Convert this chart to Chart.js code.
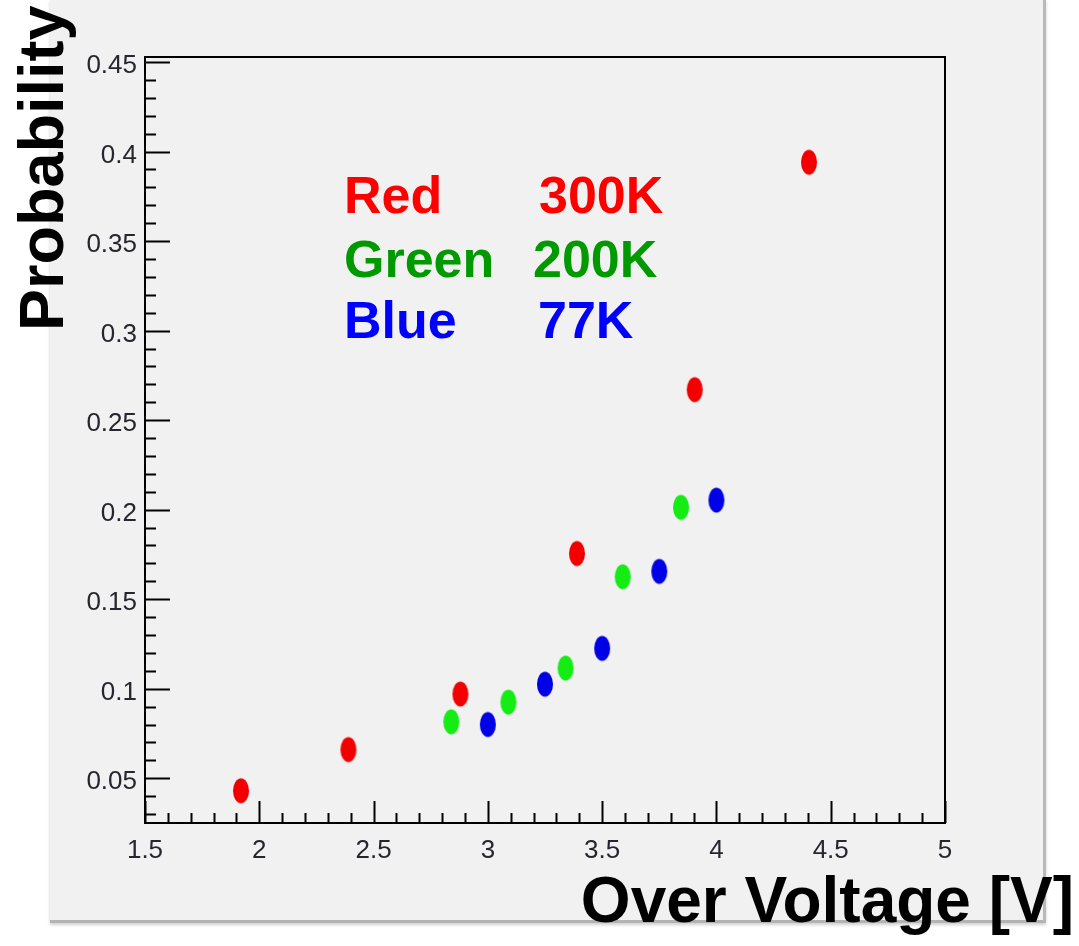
<!DOCTYPE html>
<html>
<head>
<meta charset="utf-8">
<title>Probability vs Over Voltage</title>
<script src="https://cdn.jsdelivr.net/npm/chart.js@4"></script>
<style>
  body { margin: 0; background: #fff; }
  #panel {
    position: absolute; left: 50px; top: 0;
    width: 993px; height: 920px;
    background: #f1f1f1;
    border-right: 3px solid #b9b9b9;
    border-bottom: 3px solid #b3b3b3;
    box-shadow: 0 2px 3px #cfcfcf;
  }
  canvas { position: absolute; left: 0; top: 0; }
</style>
</head>
<body>
<div id="panel"></div>
<canvas id="myChart" width="1079" height="946"></canvas>
<script>
// Over voltage [V] vs probability, one series per temperature
const redX   = [1.92, 2.39, 2.88, 3.39, 3.905, 4.405];      // 300K
const redY   = [0.043, 0.066, 0.097, 0.1755, 0.267, 0.394];
const greenX = [2.84, 3.09, 3.34, 3.59, 3.845];              // 200K
const greenY = [0.0815, 0.0925, 0.1115, 0.1625, 0.2013];
const blueX  = [3.0, 3.25, 3.5, 3.75, 4.0];                  // 77K
const blueY  = [0.080, 0.1025, 0.1225, 0.1655, 0.2053];

const xMin = 1.5, xMax = 5;
const yMin = 0.025, yMax = 0.4528;

const legendLines = [
  { name: 'Red',   temp: '300K', color: '#ff0000' },
  { name: 'Green', temp: '200K', color: '#009a00' },
  { name: 'Blue',  temp: '77K',  color: '#0000ff' }
];

const xTitle = 'Over Voltage [V]';
const yTitle = 'Probability';

// slightly tall elliptical marker, same as the ROOT export
function makeDot(color) {
  const c = document.createElement('canvas');
  c.width = 20; c.height = 30;
  const g = c.getContext('2d');
  g.filter = 'blur(0.7px)';
  g.fillStyle = color;
  g.beginPath();
  g.ellipse(10, 15, 8, 12.5, 0, 0, Math.PI * 2);
  g.fill();
  return c;
}

function toPoints(xs, ys) {
  return xs.map((x, i) => ({ x: x, y: ys[i] }));
}

function fmt(v) {
  return String(Number(v.toFixed(2)));
}

// box frame, inward ticks and the big captions
const framePlugin = {
  id: 'frame',
  afterDraw(chart) {
    const { ctx, chartArea: a, scales: { x, y } } = chart;
    ctx.save();
    ctx.strokeStyle = '#000';
    ctx.lineWidth = 2;
    ctx.strokeRect(a.left, a.top, a.width, a.height);

    ctx.beginPath();
    for (let i = 0; i <= 35; i++) {
      const px = Math.round(x.getPixelForValue(xMin + i * 0.1)) + 0.5;
      const len = i % 5 === 0 ? 22 : 10;
      ctx.moveTo(px, a.bottom);
      ctx.lineTo(px, a.bottom - len);
    }
    for (let i = 3; i <= 45; i++) {
      const py = Math.round(y.getPixelForValue(i / 100)) + 0.5;
      const len = i % 5 === 0 ? 25 : 11;
      ctx.moveTo(a.left, py);
      ctx.lineTo(a.left + len, py);
    }
    ctx.stroke();

    // legend block
    ctx.font = 'bold 52px "Liberation Sans", Arial, sans-serif';
    ctx.textBaseline = 'alphabetic';
    ctx.textAlign = 'left';
    const rows = [213, 277, 338];
    const tempX = [539, 533, 538];
    legendLines.forEach((l, i) => {
      ctx.fillStyle = l.color;
      ctx.fillText(l.name, 344, rows[i]);
      ctx.fillText(l.temp, tempX[i], rows[i]);
    });

    // axis captions
    ctx.fillStyle = '#000';
    ctx.font = 'bold 64px "Liberation Sans", Arial, sans-serif';
    ctx.textAlign = 'right';
    ctx.fillText(xTitle, 1074, 922);

    ctx.font = 'bold 63px "Liberation Sans", Arial, sans-serif';
    ctx.translate(63, 331);
    ctx.rotate(-Math.PI / 2);
    ctx.textAlign = 'left';
    ctx.fillText(yTitle, 0, 0);
    ctx.restore();
  }
};

const tickFont = {
  family: '"Liberation Sans Narrow", "Liberation Sans", Arial, sans-serif',
  size: 26
};

const ctx = document.getElementById('myChart');
const myChart = new Chart(ctx, {
  type: 'scatter',
  data: {
    datasets: [
      { label: '300K', data: toPoints(redX, redY),     pointStyle: makeDot('#f20000') },
      { label: '200K', data: toPoints(greenX, greenY), pointStyle: makeDot('#14ec14') },
      { label: '77K',  data: toPoints(blueX, blueY),   pointStyle: makeDot('#0000e6') }
    ]
  },
  options: {
    responsive: false,
    animation: false,
    layout: { padding: { top: 57, right: 134, left: 0, bottom: 0 } },
    scales: {
      x: {
        type: 'linear',
        min: xMin, max: xMax,
        afterFit: s => { s.height = 123; },
        grid: { display: false, drawTicks: false },
        border: { display: false },
        ticks: {
          stepSize: 0.5,
          includeBounds: false,
          padding: 12,
          color: '#26262e',
          font: tickFont,
          maxRotation: 0,
          callback: v => fmt(v)
        }
      },
      y: {
        type: 'linear',
        min: yMin, max: yMax,
        afterFit: s => { s.width = 145; },
        grid: { display: false, drawTicks: false },
        border: { display: false },
        ticks: {
          stepSize: 0.05,
          includeBounds: false,
          padding: 8,
          labelOffset: 4,
          color: '#26262e',
          font: tickFont,
          callback: v => fmt(v)
        }
      }
    },
    plugins: {
      legend: { display: false },
      tooltip: { enabled: false }
    }
  },
  plugins: [framePlugin]
});
</script>
</body>
</html>
